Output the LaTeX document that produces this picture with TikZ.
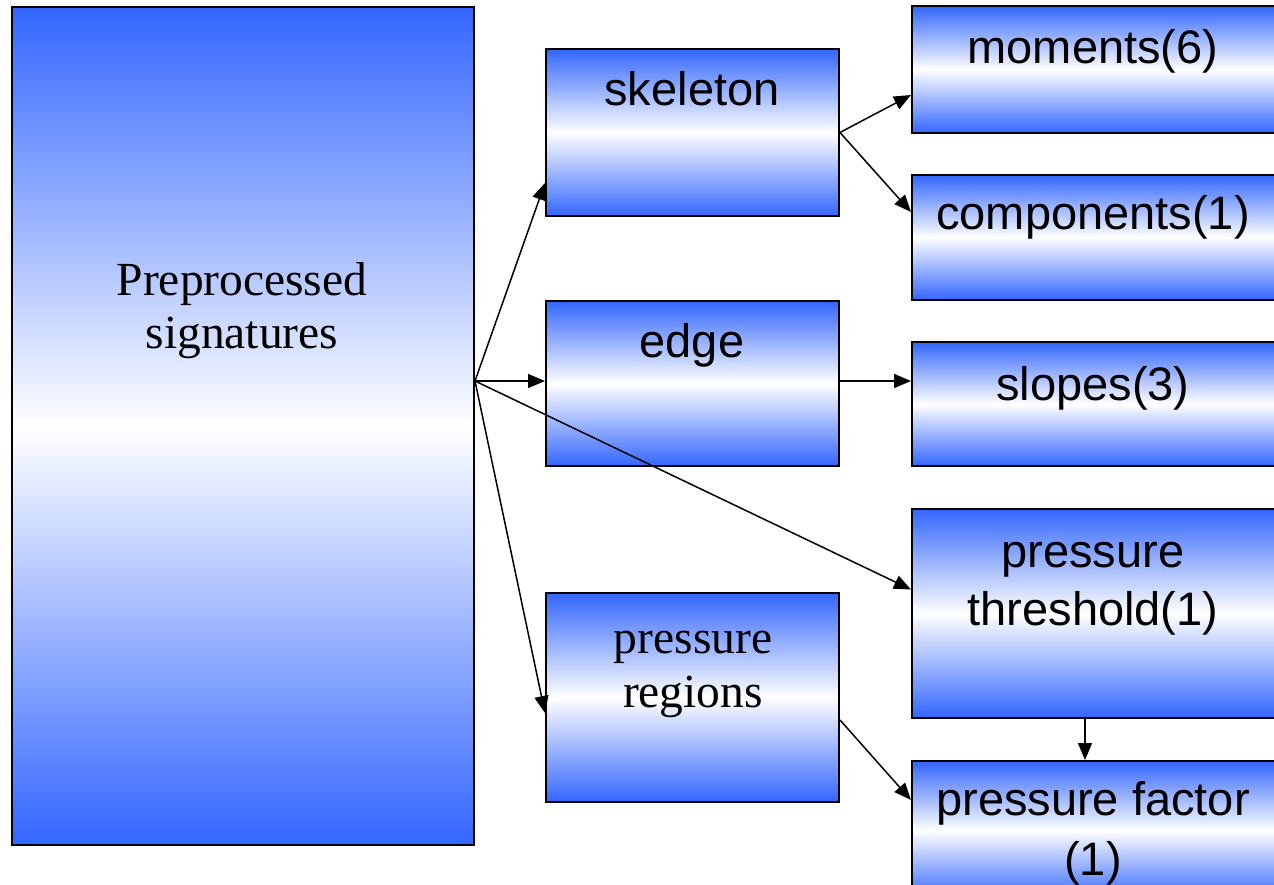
\documentclass[tikz,border=0pt]{standalone}
\usepackage{fontspec}
\newfontfamily\arialf{Liberation Sans}
\newfontfamily\timesf{Liberation Serif}
\usetikzlibrary{arrows.meta}
\definecolor{boxblue}{RGB}{51,102,255}
\begin{document}
\begin{tikzpicture}[x=1pt,y=-1pt,
  gbox/.style={draw=black, line width=2pt, rectangle, inner sep=0pt,
    top color=boxblue, bottom color=boxblue, middle color=white},
  lbl/.style={inner sep=0pt, anchor=base, font=\arialf\fontsize{47}{58}\selectfont},
  slbl/.style={inner sep=0pt, anchor=base, font=\timesf\fontsize{47.5}{54}\selectfont},
  arr/.style={line width=1.5pt, -{Triangle[length=17pt,width=14pt]}}]
\path[use as bounding box] (0,0) rectangle (1274,885);
\clip (0,0) rectangle (1274,885);
% boxes
\node[gbox, minimum width=462pt, minimum height=838pt] (pre) at (243,426) {};
\node[gbox, minimum width=293pt, minimum height=167pt] (skel) at (692.5,132.5) {};
\node[gbox, minimum width=293pt, minimum height=165pt] (edge) at (692.5,383.5) {};
\node[gbox, minimum width=293pt, minimum height=209pt] (preg) at (692.5,697.5) {};
\node[gbox, minimum width=365pt, minimum height=127pt] (mom) at (1094.5,69.5) {};
\node[gbox, minimum width=365pt, minimum height=125pt] (comp) at (1094.5,237.5) {};
\node[gbox, minimum width=365pt, minimum height=124pt] (slop) at (1094.5,404) {};
\node[gbox, minimum width=365pt, minimum height=209pt] (thr) at (1094.5,613.5) {};
\node[gbox, minimum width=365pt, minimum height=139pt] (fac) at (1094.5,830.5) {};
% texts
\node[slbl] (preA) at (242,295) {Preprocessed};
\node[slbl] (preB) at (242,348) {signatures};
\node[lbl] (skelT) at (692,106) {skeleton};
\node[lbl] (edgeT) at (692,357) {edge};
\node[slbl] (pregA) at (693,653) {pressure};
\node[slbl] (pregB) at (693,707) {regions};
\node[lbl] (momT) at (1093,64) {moments(6)};
\node[lbl] (compT) at (1093,230) {components(1)};
\node[lbl] (slopT) at (1093,400) {slopes(3)};
\node[lbl] (thrA) at (1093,567) {pressure};
\node[lbl] (thrB) at (1093,625) {threshold(1)};
\node[lbl] (facA) at (1093,815) {pressure factor};
\node[lbl] (facB) at (1093,875) {(1)};
% connectors
\coordinate (src) at ([yshift=45pt]pre.east);
\draw[arr] (src) -- ([yshift=-50.5pt]skel.west);
\draw[arr] (src) -- (src -| edge.west);
\draw[arr] (src) -- ([yshift=24pt]thr.west);
\draw[arr] (src) -- ([yshift=-15.5pt]preg.west);
\draw[arr] (skel.east) -- ([yshift=-25.5pt]mom.west);
\draw[arr] (skel.east) -- ([yshift=25.5pt]comp.west);
\draw[arr] (src -| edge.east) -- (src -| slop.west);
\draw[arr] ([yshift=-22.5pt]preg.east) -- ([yshift=30.5pt]fac.west);
\draw[arr] ([xshift=-9.5pt]thr.south) -- ([xshift=-9.5pt]fac.north);
\end{tikzpicture}
\end{document}
